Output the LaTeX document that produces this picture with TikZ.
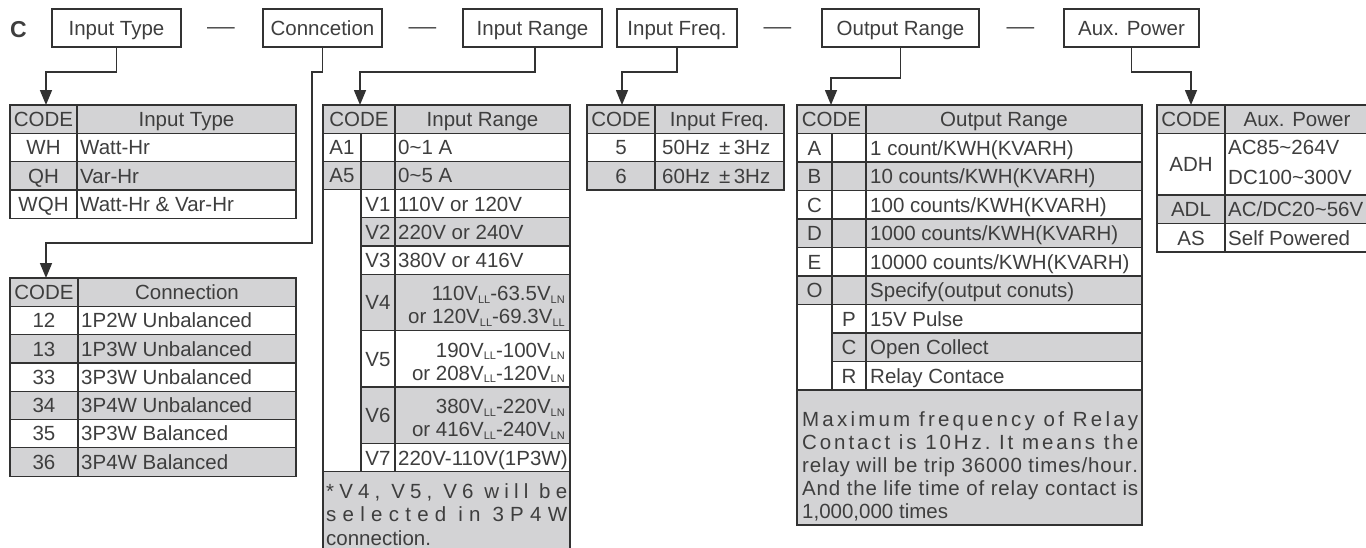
\documentclass[tikz,border=0pt]{standalone}
\usepackage{fontspec}
\setmainfont{Liberation Sans}
\usetikzlibrary{arrows.meta,calc}
\definecolor{ink}{RGB}{62,62,62}
\definecolor{lc}{RGB}{50,50,50}
\definecolor{cg}{RGB}{211,211,213}
\newcommand\lsub[1]{\raisebox{-0.25ex}{\fontsize{11}{11}\selectfont #1}}
\ExplSyntaxOn
\seq_new:N \l__sp_words_seq
\bool_new:N \l__sp_first_bool
\tl_new:N \l__sp_tl
\tl_new:N \l__sp_tail_tl
\cs_new_protected:Npn \__sp_word:n #1
  {
    \tl_set:Nn \l__sp_tl { #1 }
    \tl_head:N \l__sp_tl
    \tl_set:Nx \l__sp_tail_tl { \tl_tail:N \l__sp_tl }
    \tl_map_inline:Nn \l__sp_tail_tl { \hskip 0pt plus 1fil\relax ##1 }
  }
\NewDocumentCommand \spreadline { m m }
  {
    \seq_set_split:Nnn \l__sp_words_seq { ~ } { #2 }
    \makebox [ #1 ] [ s ]
      {
        \bool_set_true:N \l__sp_first_bool
        \seq_map_inline:Nn \l__sp_words_seq
          {
            \bool_if:NF \l__sp_first_bool { \hskip 0.278em plus 1fil\relax }
            \bool_set_false:N \l__sp_first_bool
            \__sp_word:n { ##1 }
          }
      }
  }
\ExplSyntaxOff
\begin{document}
\begin{tikzpicture}[x=1pt,y=-1pt,
  every node/.style={inner sep=0pt, text=ink, font=\fontsize{20.5}{24}\selectfont},
  lab/.style={draw=lc, line width=1.3pt, minimum height=38pt, text height=14.7pt, text depth=0pt, anchor=center},
  tl/.style={draw=lc, line width=1.2pt},
  conn/.style={draw=lc, line width=1.5pt},
  arr/.style={conn, -{Triangle[length=15pt,width=12pt]}},
  c/.style={anchor=base},
  w/.style={anchor=base west},
  e/.style={anchor=base east},
  dsh/.style={anchor=base, font=\fontsize{20.5}{24}\selectfont}
]
\useasboundingbox (0,0) rectangle (1366,547);

% ---------- top row ----------
\node[anchor=base, font=\fontsize{23}{26}\selectfont\bfseries] (cc) at (18.5,37) {C};
\node[lab, minimum width=129pt] (it) at (116.5,28) {Input Type};
\node[dsh] (d1) at (221,33.6) {\scalebox{1.35}[1]{—}};
\node[lab, minimum width=119pt] (cn) at (322.5,28) {Conncetion};
\node[dsh] (d2) at (422.5,33.6) {\scalebox{1.35}[1]{—}};
\node[lab, minimum width=139pt] (ir) at (532.5,28) {Input Range};
\node[lab, minimum width=120pt] (if) at (677,28) {Input Freq.};
\node[dsh] (d3) at (777.5,33.6) {\scalebox{1.35}[1]{—}};
\node[lab, minimum width=157pt] (or) at (900.5,28) {Output Range};
\node[dsh] (d4) at (1020.5,33.6) {\scalebox{1.35}[1]{—}};
\node[lab, minimum width=135pt] (ap) at (1131.5,28) {Aux. Power};

\coordinate (t1top) at (46,105);
\coordinate (t2top) at (46,278);
\coordinate (t3top) at (360,105);
\coordinate (t4top) at (622,105);
\coordinate (t5top) at (831,105);
\coordinate (t6top) at (1191,105);

% ---------- connectors ----------
\draw[arr] (it.south) -- (116.5,72) -| (t1top);
\draw[arr] (cn.south) -- (322.5,72) -- (312,72) -- (312,243) -- (46,243) -- (t2top);
\draw[arr] ($(ir.south)+(2.5,0)$) -- (535,72) -| (t3top);
\draw[arr] (if.south) -- (677,72) -| (t4top);
\draw[arr] (or.south) -- (900.5,78) -| (t5top);
\draw[arr] (ap.south) -- (1131.5,72) -| (t6top);

% ---------- Table 1: Input Type ----------
\fill[cg] (10,105) rectangle (296,133.3);
\fill[cg] (10,161.6) rectangle (296,189.9);
\draw[tl] (10,105) rectangle (296,218.2);
\draw[tl] (77,105) -- (77,218.2);
\foreach \y in {133.3,161.6,189.9} \draw[tl] (10,\y) -- (296,\y);
\node[c] (a1) at (43.5,126.45) {CODE};
\node[c] (a2) at (186.5,126.45) {Input Type};
\node[c] (a3) at (43.5,154.75) {WH};
\node[w] (a4) at (80,154.75) {Watt-Hr};
\node[c] (a5) at (43.5,183.05) {QH};
\node[w] (a6) at (80,183.05) {Var-Hr};
\node[c] (a7) at (43.5,211.35) {WQH};
\node[w] (a8) at (80,211.35) {Watt-Hr \& Var-Hr};

% ---------- Table 2: Connection ----------
\fill[cg] (10,278) rectangle (296,306.3);
\fill[cg] (10,334.6) rectangle (296,362.9);
\fill[cg] (10,391.2) rectangle (296,419.5);
\fill[cg] (10,447.8) rectangle (296,476.1);
\draw[tl] (10,278) rectangle (296,476.1);
\draw[tl] (78,278) -- (78,476.1);
\foreach \y in {306.3,334.6,362.9,391.2,419.5,447.8} \draw[tl] (10,\y) -- (296,\y);
\node[c] (b1) at (44,299.45) {CODE};
\node[c] (b2) at (187,299.45) {Connection};
\node[c] (b3) at (44,327.75) {12};
\node[w] (b4) at (81,327.75) {1P2W Unbalanced};
\node[c] (b5) at (44,356.05) {13};
\node[w] (b6) at (81,356.05) {1P3W Unbalanced};
\node[c] (b7) at (44,384.35) {33};
\node[w] (b8) at (81,384.35) {3P3W Unbalanced};
\node[c] (b9) at (44,412.65) {34};
\node[w] (b10) at (81,412.65) {3P4W Unbalanced};
\node[c] (b11) at (44,440.95) {35};
\node[w] (b12) at (81,440.95) {3P3W Balanced};
\node[c] (b13) at (44,469.25) {36};
\node[w] (b14) at (81,469.25) {3P4W Balanced};

% ---------- Table 3: Input Range ----------
\fill[cg] (323,105) rectangle (570,133.2);
\fill[cg] (323,161.4) rectangle (570,189.6);
\fill[cg] (361,217.8) rectangle (570,246);
\fill[cg] (361,274.2) rectangle (570,330.6);
\fill[cg] (361,387) rectangle (570,443.4);
\fill[cg] (323,471.6) rectangle (570,560);
\draw[tl] (323,560) -- (323,105) -- (570,105) -- (570,560);
\draw[tl] (361,133.2) -- (361,471.6);
\draw[tl] (395,105) -- (395,471.6);
\foreach \y in {133.2,161.4,189.6,471.6} \draw[tl] (323,\y) -- (570,\y);
\foreach \y in {217.8,246,274.2,330.6,387,443.4} \draw[tl] (361,\y) -- (570,\y);
\node[c] (c1) at (359,126.4) {CODE};
\node[c] (c2) at (482.5,126.4) {Input Range};
\node[c] (c3) at (342,154.6) {A1};
\node[w] (c4) at (398,154.6) {0\char`~1 A};
\node[c] (c5) at (342,182.8) {A5};
\node[w] (c6) at (398,182.8) {0\char`~5 A};
\node[c] (c7) at (378,211) {V1};
\node[w] (c8) at (398,211) {110V or 120V};
\node[c] (c9) at (378,239.2) {V2};
\node[w] (c10) at (398,239.2) {220V or 240V};
\node[c] (c11) at (378,267.4) {V3};
\node[w] (c12) at (398,267.4) {380V or 416V};
\node[c] (c13) at (378,309.7) {V4};
\node[e] (c14) at (565,300.7) {110V\lsub{LL}-63.5V\lsub{LN}};
\node[e] (c15) at (565,323.7) {or 120V\lsub{LL}-69.3V\lsub{LL}};
\node[c] (c16) at (378,366.1) {V5};
\node[e] (c17) at (565,357.1) {190V\lsub{LL}-100V\lsub{LN}};
\node[e] (c18) at (565,380.1) {or 208V\lsub{LL}-120V\lsub{LN}};
\node[c] (c19) at (378,422.5) {V6};
\node[e] (c20) at (565,413.5) {380V\lsub{LL}-220V\lsub{LN}};
\node[e] (c21) at (565,436.5) {or 416V\lsub{LL}-240V\lsub{LN}};
\node[c] (c22) at (378,465) {V7};
\node[w] (c23) at (398,465) {220V-110V(1P3W)};
\node[w] (c24) at (326,498) {\spreadline{241pt}{*V4, V5, V6 will be}};
\node[w] (c25) at (326,521.5) {\spreadline{241pt}{selected in 3P4W}};
\node[w] (c26) at (326,545) {connection.};

% ---------- Table 4: Input Freq ----------
\fill[cg] (587,105) rectangle (784,133.3);
\fill[cg] (587,161.6) rectangle (784,189.9);
\draw[tl] (587,105) rectangle (784,189.9);
\draw[tl] (655,105) -- (655,189.9);
\foreach \y in {133.3,161.6} \draw[tl] (587,\y) -- (784,\y);
\node[c] (d5) at (621,126.45) {CODE};
\node[c] (d6) at (719.5,126.45) {Input Freq.};
\node[c] (d7) at (621,154.75) {5};
\node[w] (d8) at (662,154.75) {50Hz \,±\,3Hz};
\node[c] (d9) at (621,183.05) {6};
\node[w] (d10) at (662,183.05) {60Hz \,±\,3Hz};

% ---------- Table 5: Output Range ----------
\fill[cg] (797,105) rectangle (1142,133.5);
\fill[cg] (797,162) rectangle (1142,190.5);
\fill[cg] (797,219) rectangle (1142,247.5);
\fill[cg] (797,276) rectangle (1142,304.5);
\fill[cg] (832,333) rectangle (1142,361.5);
\fill[cg] (797,390) rectangle (1142,525);
\draw[tl] (797,105) rectangle (1142,525);
\draw[tl] (832,133.5) -- (832,390);
\draw[tl] (866,105) -- (866,390);
\foreach \y in {133.5,162,190.5,219,247.5,276,304.5,390} \draw[tl] (797,\y) -- (1142,\y);
\foreach \y in {333,361.5} \draw[tl] (832,\y) -- (1142,\y);
\node[c] (e1) at (831.5,126.55) {CODE};
\node[c] (e2) at (1004,126.55) {Output Range};
\node[c] (e3) at (814.5,155.05) {A};
\node[w] (e4) at (870,155.05) {1 count/KWH(KVARH)};
\node[c] (e5) at (814.5,183.55) {B};
\node[w] (e6) at (870,183.55) {10 counts/KWH(KVARH)};
\node[c] (e7) at (814.5,212.05) {C};
\node[w] (e8) at (870,212.05) {100 counts/KWH(KVARH)};
\node[c] (e9) at (814.5,240.55) {D};
\node[w] (e10) at (870,240.55) {1000 counts/KWH(KVARH)};
\node[c] (e11) at (814.5,269.05) {E};
\node[w] (e12) at (870,269.05) {10000 counts/KWH(KVARH)};
\node[c] (e13) at (814.5,297.55) {O};
\node[w] (e14) at (870,297.55) {Specify(output conuts)};
\node[c] (e15) at (849,326.05) {P};
\node[w] (e16) at (870,326.05) {15V Pulse};
\node[c] (e17) at (849,354.55) {C};
\node[w] (e18) at (870,354.55) {Open Collect};
\node[c] (e19) at (849,383.05) {R};
\node[w] (e20) at (870,383.05) {Relay Contace};
\node[w] (e21) at (802,426.3) {\spreadline{336pt}{Maximum frequency of Relay}};
\node[w] (e22) at (802,449.3) {\spreadline{336pt}{Contact is 10Hz. It means the}};
\node[w] (e23) at (802,472.3) {\spreadline{336pt}{relay will be trip 36000 times/hour.}};
\node[w] (e24) at (802,495.3) {\spreadline{336pt}{And the life time of relay contact is}};
\node[w] (e25) at (802,518.3) {1,000,000 times};

% ---------- Table 6: Aux. Power ----------
\fill[cg] (1157,105) rectangle (1372,133.3);
\fill[cg] (1157,195) rectangle (1372,223.5);
\draw[tl] (1372,105) -- (1157,105) -- (1157,252) -- (1372,252);
\draw[tl] (1225,105) -- (1225,252);
\foreach \y in {133.3,195,223.5} \draw[tl] (1157,\y) -- (1372,\y);
\node[c] (f1) at (1191,126.45) {CODE};
\node[c] (f2) at (1297,126.45) {Aux. Power};
\node[c] (f3) at (1191,171.5) {ADH};
\node[w] (f4) at (1228,154.3) {AC85\char`~264V};
\node[w] (f5) at (1228,184.3) {DC100\char`~300V};
\node[c] (f6) at (1191,216.55) {ADL};
\node[w] (f7) at (1228,216.55) {AC/DC20\char`~56V};
\node[c] (f8) at (1191,245.05) {AS};
\node[w] (f9) at (1228,245.05) {Self Powered};
\end{tikzpicture}
\end{document}
